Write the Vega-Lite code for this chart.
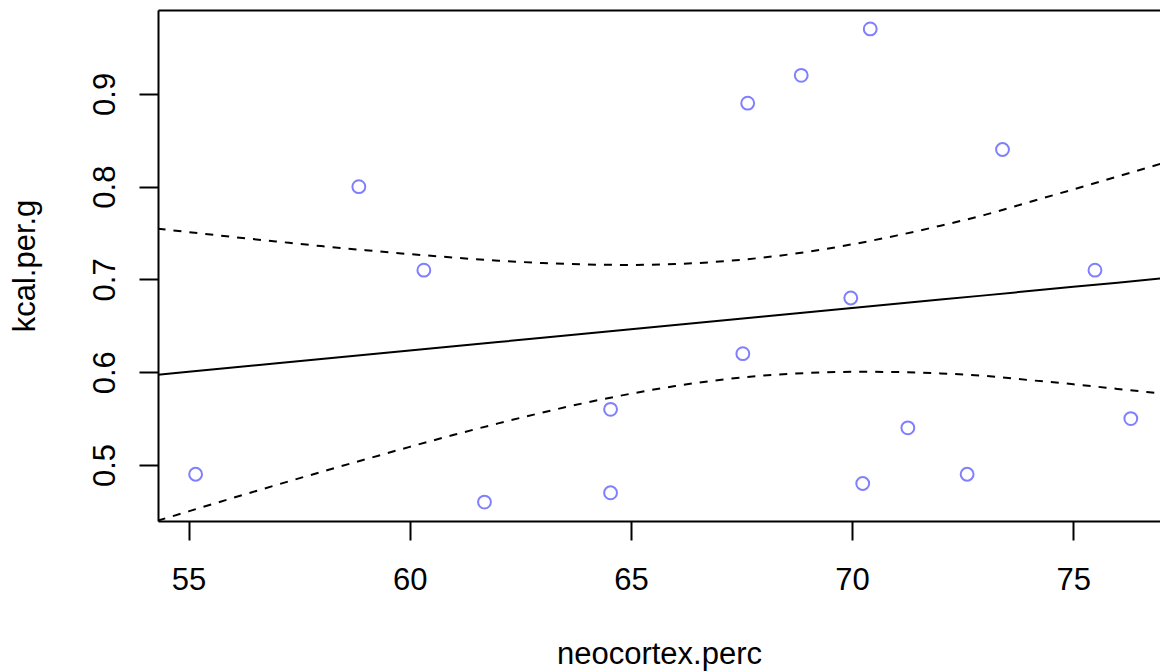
{
  "$schema": "https://vega.github.io/schema/vega-lite/v6.json",
  "autosize": {"type": "none"},
  "padding": {"left": 158, "top": 10, "right": 0, "bottom": 151},
  "width": 1002,
  "height": 511,
  "background": "white",
  "config": {
    "view": {"stroke": null},
    "axis": {
      "domainColor": "black", "domainWidth": 2,
      "tickColor": "black", "tickWidth": 2, "tickSize": 19,
      "labelFont": "Liberation Sans", "labelFontSize": 31, "labelColor": "black",
      "titleFont": "Liberation Sans", "titleFontSize": 31, "titleFontWeight": "normal", "titleColor": "black",
      "grid": false
    }
  },
  "datasets": {
    "milk": [
      {"neocortex_perc": 55.16, "kcal_per_g": 0.49},
      {"neocortex_perc": 64.54, "kcal_per_g": 0.47},
      {"neocortex_perc": 64.54, "kcal_per_g": 0.56},
      {"neocortex_perc": 67.64, "kcal_per_g": 0.89},
      {"neocortex_perc": 68.85, "kcal_per_g": 0.92},
      {"neocortex_perc": 58.85, "kcal_per_g": 0.80},
      {"neocortex_perc": 61.69, "kcal_per_g": 0.46},
      {"neocortex_perc": 60.32, "kcal_per_g": 0.71},
      {"neocortex_perc": 69.97, "kcal_per_g": 0.68},
      {"neocortex_perc": 70.41, "kcal_per_g": 0.97},
      {"neocortex_perc": 73.40, "kcal_per_g": 0.84},
      {"neocortex_perc": 67.53, "kcal_per_g": 0.62},
      {"neocortex_perc": 71.26, "kcal_per_g": 0.54},
      {"neocortex_perc": 72.60, "kcal_per_g": 0.49},
      {"neocortex_perc": 70.24, "kcal_per_g": 0.48},
      {"neocortex_perc": 76.30, "kcal_per_g": 0.55},
      {"neocortex_perc": 75.49, "kcal_per_g": 0.71}
    ],
    "fit": [
      {"x": 54.3, "mu": 0.5973, "lo": 0.4399, "hi": 0.7547},
      {"x": 55, "mu": 0.6005, "lo": 0.4500, "hi": 0.7510},
      {"x": 56, "mu": 0.6051, "lo": 0.4644, "hi": 0.7458},
      {"x": 57, "mu": 0.6097, "lo": 0.4786, "hi": 0.7408},
      {"x": 58, "mu": 0.6142, "lo": 0.4925, "hi": 0.7359},
      {"x": 59, "mu": 0.6188, "lo": 0.5061, "hi": 0.7315},
      {"x": 60, "mu": 0.6234, "lo": 0.5195, "hi": 0.7273},
      {"x": 61, "mu": 0.6280, "lo": 0.5325, "hi": 0.7235},
      {"x": 62, "mu": 0.6325, "lo": 0.5448, "hi": 0.7202},
      {"x": 63, "mu": 0.6371, "lo": 0.5565, "hi": 0.7177},
      {"x": 64, "mu": 0.6417, "lo": 0.5673, "hi": 0.7161},
      {"x": 65, "mu": 0.6462, "lo": 0.5768, "hi": 0.7156},
      {"x": 66, "mu": 0.6508, "lo": 0.5851, "hi": 0.7165},
      {"x": 67, "mu": 0.6554, "lo": 0.5916, "hi": 0.7192},
      {"x": 68, "mu": 0.6600, "lo": 0.5964, "hi": 0.7236},
      {"x": 69, "mu": 0.6645, "lo": 0.5992, "hi": 0.7298},
      {"x": 70, "mu": 0.6691, "lo": 0.6004, "hi": 0.7378},
      {"x": 71, "mu": 0.6737, "lo": 0.6002, "hi": 0.7472},
      {"x": 72, "mu": 0.6783, "lo": 0.5987, "hi": 0.7579},
      {"x": 73, "mu": 0.6828, "lo": 0.5960, "hi": 0.7696},
      {"x": 74, "mu": 0.6874, "lo": 0.5915, "hi": 0.7833},
      {"x": 75, "mu": 0.6920, "lo": 0.5870, "hi": 0.7970},
      {"x": 76, "mu": 0.6965, "lo": 0.5820, "hi": 0.8110},
      {"x": 77, "mu": 0.7011, "lo": 0.5770, "hi": 0.8250}
    ]
  },
  "layer": [
    {
      "data": {"name": "milk"},
      "mark": {"type": "point", "shape": "circle", "filled": false, "color": "#8080FF", "size": 165, "strokeWidth": 2, "opacity": 1},
      "encoding": {
        "x": {"field": "neocortex_perc", "type": "quantitative",
              "scale": {"domain": [54.31, 76.96], "nice": false, "zero": false},
              "axis": {"orient": "bottom", "title": "neocortex.perc", "values": [55, 60, 65, 70, 75], "labelPadding": 25, "titlePadding": 44}},
        "y": {"field": "kcal_per_g", "type": "quantitative",
              "scale": {"domain": [0.4396, 0.9904], "nice": false, "zero": false},
              "axis": {"orient": "left", "title": "kcal.per.g", "values": [0.5, 0.6, 0.7, 0.8, 0.9], "format": ".1f",
                       "labelAngle": 270, "labelAlign": "center", "labelBaseline": "bottom", "labelPadding": 18, "titlePadding": 48}}
      }
    },
    {
      "data": {"name": "fit"},
      "mark": {"type": "line", "color": "black", "strokeWidth": 2, "clip": true},
      "encoding": {
        "x": {"field": "x", "type": "quantitative",
              "axis": {"orient": "top", "labels": false, "ticks": false, "domain": true, "title": null, "values": []}},
        "y": {"field": "mu", "type": "quantitative"}
      }
    },
    {
      "data": {"name": "fit"},
      "mark": {"type": "line", "color": "black", "strokeWidth": 2, "strokeDash": [8, 8], "interpolate": "monotone", "clip": true},
      "encoding": {
        "x": {"field": "x", "type": "quantitative", "axis": null},
        "y": {"field": "lo", "type": "quantitative"}
      }
    },
    {
      "data": {"name": "fit"},
      "mark": {"type": "line", "color": "black", "strokeWidth": 2, "strokeDash": [8, 8], "interpolate": "monotone", "clip": true},
      "encoding": {
        "x": {"field": "x", "type": "quantitative", "axis": null},
        "y": {"field": "hi", "type": "quantitative"}
      }
    }
  ],
  "resolve": {"axis": {"x": "independent"}}
}
